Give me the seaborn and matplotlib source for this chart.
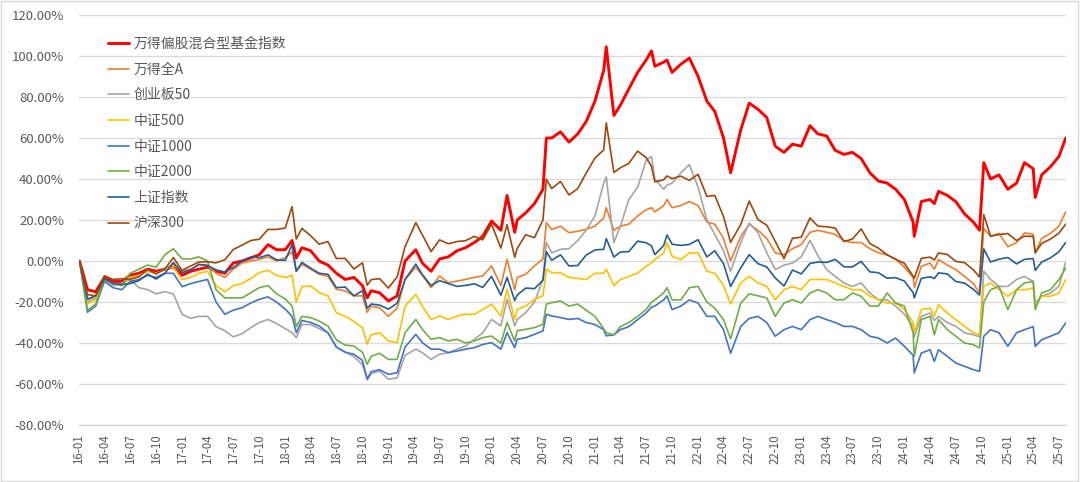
import numpy as np
import pandas as pd
import matplotlib
matplotlib.use("Agg")
import matplotlib.pyplot as plt
from matplotlib.ticker import FuncFormatter
from matplotlib.patches import Rectangle
import seaborn as sns

# ---------------- data (cumulative return, %) ----------------
dates = [
    "2016-01-04", "2016-02-01", "2016-03-01", "2016-04-01", "2016-05-01", "2016-06-01", "2016-07-01", "2016-08-01", "2016-09-01", "2016-10-01",
    "2016-11-01", "2016-12-01", "2017-01-01", "2017-02-01", "2017-03-01", "2017-04-01", "2017-05-01", "2017-06-01", "2017-07-01", "2017-08-01",
    "2017-09-01", "2017-10-01", "2017-11-01", "2017-12-01", "2018-01-01", "2018-01-25", "2018-02-09", "2018-03-01", "2018-04-01", "2018-05-01",
    "2018-06-01", "2018-07-01", "2018-08-01", "2018-09-01", "2018-10-01", "2018-10-18", "2018-11-01", "2018-12-01", "2019-01-01", "2019-02-01",
    "2019-03-01", "2019-04-08", "2019-05-01", "2019-06-01", "2019-07-01", "2019-08-01", "2019-09-01", "2019-10-01", "2019-11-01", "2019-12-01",
    "2020-01-01", "2020-02-03", "2020-02-25", "2020-03-23", "2020-04-01", "2020-05-01", "2020-06-01", "2020-07-01", "2020-07-13", "2020-08-01",
    "2020-09-01", "2020-10-01", "2020-11-01", "2020-12-01", "2021-01-01", "2021-02-01", "2021-02-10", "2021-03-09", "2021-04-01", "2021-05-01",
    "2021-06-01", "2021-07-01", "2021-07-20", "2021-08-01", "2021-09-01", "2021-09-13", "2021-10-01", "2021-11-01", "2021-12-01", "2022-01-01",
    "2022-02-01", "2022-03-01", "2022-04-01", "2022-04-26", "2022-06-01", "2022-07-01", "2022-08-01", "2022-09-01", "2022-10-01", "2022-11-01",
    "2022-12-01", "2023-01-01", "2023-02-01", "2023-03-01", "2023-04-01", "2023-05-01", "2023-06-01", "2023-07-01", "2023-08-01", "2023-09-01",
    "2023-10-01", "2023-11-01", "2023-12-01", "2024-01-01", "2024-02-01", "2024-02-05", "2024-03-01", "2024-04-01", "2024-04-16", "2024-05-01",
    "2024-06-01", "2024-07-01", "2024-08-01", "2024-09-01", "2024-09-23", "2024-10-08", "2024-11-01", "2024-12-01", "2025-01-01", "2025-02-01",
    "2025-03-01", "2025-04-01", "2025-04-08", "2025-05-01", "2025-06-01", "2025-07-01", "2025-07-25",
]

fund_index = [
    0, -14, -15, -8, -10, -10, -7, -6, -4, -5,
    -4, -3, -7, -5, -4, -3, -5, -6, -1, 0,
    1.5, 3, 8, 5.5, 5.5, 10, 1.5, 6.5, 5, 0,
    -2, -6, -9, -8, -12, -18, -14.5, -15.5, -19.5, -17,
    0, 5.5, -1, -5, 1, 2, 5, 6.5, 9, 12,
    19.5, 15, 32, 14, 20, 23.5, 28, 35, 60, 60,
    63, 58, 62, 68, 78, 93, 104.5, 71, 76, 84,
    92, 98, 102.5, 95, 97, 98, 92, 96, 99, 90,
    78, 73, 60, 43, 64, 77, 74, 70, 56, 53,
    57, 56, 66, 62, 61, 54, 52, 53, 50, 43,
    39, 38, 35, 30, 19, 12, 29, 30, 28, 34,
    32, 29, 23, 19, 15, 48, 40, 42, 35, 38,
    48, 45, 31, 42, 46, 51, 60,
]

wind_all_a = [
    0, -19, -17, -9, -11, -11, -8, -7, -5, -6,
    -4, -1.5, -5, -4, -2, -2, -6, -8, -4, -1,
    0, 0.8, 2, 0, 1.6, 4.5, -5, -1.6, -4, -6.5,
    -7.5, -13.8, -14.6, -17, -17, -25, -22, -22.8, -27, -23,
    -9, -3, -7, -13, -7.3, -10.6, -9.8, -9, -8, -7.3,
    -2.4, -12, 0.8, -14, -8, -6.5, -2.4, 1, 18.7, 15.4,
    17, 13.8, 14.5, 15.5, 17, 21, 26, 15, 17, 18,
    22, 25, 26, 24, 27, 30, 26, 27, 29, 27,
    19, 18, 11, 0, 12, 18, 15, 11, 4, 3,
    6, 8, 14, 15, 14, 13, 10, 9, 9, 6,
    4, 3, 1, -3, -8, -13, -2.6, -1, -4, 0.7,
    -2, -4.2, -7.5, -11, -15.6, 16, 12, 13.5, 7, 9,
    13.7, 13, 4, 11, 13.5, 17, 24,
]

chinext50 = [
    0, -20, -18, -9, -12, -11, -9, -13, -14, -16,
    -15, -16, -26, -28, -27, -27, -32, -34, -37, -35.5,
    -32.5, -30, -28.5, -30.5, -33, -35, -37.4, -31, -31, -33,
    -35, -42, -44.4, -46.7, -50.5, -58, -55, -53.7, -57.7, -57,
    -46, -43, -44.7, -48, -45.5, -44.7, -43, -41.5, -38.2, -35,
    -28.5, -31.7, -18.7, -31.7, -28.5, -25.2, -20, -9, 9, 4,
    5.7, 6, 10, 15, 22, 38, 41, 9, 17, 30,
    36, 49, 51, 40, 35, 37, 38, 43, 47, 36,
    20, 13, 5, -5, 9, 18.5, 13.7, 4, -4.2, -2,
    -1, 2, 10, 2.6, -4.2, -7.5, -10.7, -12.4, -10.7, -15.6,
    -18.9, -18.9, -22, -26, -32, -37, -27, -25.4, -29, -27,
    -30, -31.9, -35, -36, -37, -5, -9, -12.4, -12.4, -9,
    -7.5, -10, -20.5, -17.2, -15.6, -12.4, -0.5,
]

csi500 = [
    0, -21, -19, -9, -11, -12, -8, -7, -5, -6,
    -4, -3, -9, -8, -6, -5, -12, -15, -12, -11,
    -8.5, -5.7, -4.5, -7, -8, -7, -20, -12.5, -12.2, -15.4,
    -17, -25.2, -27, -29.5, -32.5, -40.5, -36, -35, -39, -39.8,
    -22, -16.3, -22, -28.5, -26.8, -28.5, -26.8, -26, -26, -23.6,
    -21.1, -26.8, -13.8, -28.5, -23.6, -22, -18.7, -17, -4, -5.7,
    -5.7, -8, -8.5, -9, -6, -6, -4, -12, -9, -7.5,
    -5.9, -2.6, -1, 0.7, 3.9, 9, 2.3, 0.7, 3.9, 4,
    -5, -6, -12, -21, -10.7, -7.5, -10.7, -12.4, -18.9, -14,
    -12.4, -14, -9, -9, -9, -10.7, -12.4, -14, -14, -17.2,
    -18.9, -20.5, -20.5, -23.7, -30, -35, -23.7, -23, -27, -21.3,
    -25.4, -28.6, -31.9, -35, -36, -12.4, -10.7, -14, -17.2, -14,
    -14, -13.2, -22, -17.2, -17.2, -15.6, -9,
]

csi1000 = [
    0, -25, -22, -10, -13, -14, -10, -9, -7, -8,
    -6, -6, -12.5, -11, -10, -9, -20, -26, -24, -22.8,
    -20.5, -18.7, -17.5, -20, -23.5, -27, -35, -29, -30, -31.7,
    -35, -42, -44.5, -45.5, -48.5, -57.5, -54, -53, -55.3, -54.5,
    -42, -35.8, -39.8, -43, -43, -44.7, -43.9, -43, -42.3, -40.7,
    -39.8, -43, -35, -42.3, -38.2, -37.4, -35.8, -34.1, -26, -26.8,
    -27.6, -28.5, -28, -30, -31, -33.5, -36.5, -36, -33.5, -32,
    -28.6, -25.4, -22.5, -22, -19, -17, -23.7, -22, -19, -20.5,
    -27, -27, -33.5, -45, -31.9, -28, -27, -30, -36.7, -33.5,
    -31.9, -33.5, -28.6, -27, -28.6, -30, -31.9, -31.9, -33.5, -36.7,
    -37.6, -40, -37.6, -41.6, -46, -54.6, -44.9, -43.3, -49, -43.3,
    -46.5, -49.8, -51.4, -53, -53.8, -36.7, -33.5, -35, -41.6, -35,
    -33.5, -32, -41.6, -38.4, -36.7, -35, -30.2,
]

csi2000 = [
    0, -24, -21, -9, -11, -12, -6, -4, -2, -3,
    3, 6, 1, 1, 2, 0, -14, -18, -18, -18,
    -15.5, -13, -12, -16, -18.5, -22, -32, -27, -27.6, -29.3,
    -31.7, -38.5, -41, -41.5, -44.5, -50.4, -46.5, -45, -48, -48,
    -35, -28.5, -33.3, -38.2, -37.4, -39, -38.2, -40, -39, -37.4,
    -36.6, -40, -30, -39, -34, -33.3, -32.5, -30.9, -21, -20.3,
    -19.5, -22, -21, -24, -27, -33, -35, -36, -32, -30,
    -27, -23.7, -20, -19, -15.6, -13, -19, -19, -13, -12.4,
    -20, -23, -28.6, -38, -20.5, -16, -17, -18, -27, -20.5,
    -18.9, -20.5, -15.6, -14, -15.6, -18.9, -18.9, -15.6, -17.2, -22,
    -22, -15.6, -20.5, -22, -35, -46.5, -28.6, -27, -36, -28.6,
    -33.5, -36.7, -40, -40.8, -42.4, -20, -14, -12.4, -23.7, -14,
    -10.7, -10, -23.7, -15.6, -14, -9, -3.4,
]

sse_composite = [
    0, -18.5, -17, -8.7, -10.9, -11.5, -11, -9.6, -6.4, -8.8,
    -6, -0.7, -5.8, -4.2, -1.6, -2.2, -4.3, -5.4, -3.2, 0,
    2, 1.6, 3, 0.6, 0.3, 8, -5, -0.7, -3.5, -6,
    -6.5, -13, -12.7, -17, -14.5, -23, -21, -21.5, -23.5, -20.6,
    -9, -1.5, -6.6, -12, -9.6, -11, -12.4, -11.9, -11.1, -12.9,
    -7.5, -16.7, -8, -19.3, -16.6, -13.2, -13.5, -9.4, 4.5, 0.4,
    3, -2.4, -2.2, 2.9, 5.4, 5.7, 10.9, 1.9, 4.4, 4.6,
    9.7, 8.9, 7.4, 3.1, 7.5, 12.7, 8.2, 7.6, 8.1, 10.4,
    2, 5, -1.3, -12.4, -3.3, 3.1, -1.3, -2.9, -8.3, -12.2,
    -4.4, -6.3, -1.2, -0.5, -0.7, 0.8, -2.8, -2.9, -0.2, -5.3,
    -5.7, -8.4, -8.1, -9.8, -15.4, -18, -8.5, -7.7, -8.5, -5.8,
    -6.3, -10, -10.8, -13.8, -16.6, 5.9, -0.5, 0.9, 1.7, -1.4,
    0.8, 1.2, -4.6, -0.5, 1.5, 4.5, 9,
]

csi300 = [
    0, -16.4, -17, -7.2, -9, -8.7, -9, -7.7, -4.1, -6.3,
    -3.9, 1.7, -4.6, -2.4, -0.5, -0.4, -0.9, 0.6, 5.6, 7.7,
    10, 10.6, 15.4, 15.4, 16.1, 26.5, 10.7, 15.9, 12.3, 8.2,
    9.5, 1.2, 1.3, -3.9, -0.9, -11.8, -9.1, -8.6, -13.2, -7.7,
    7, 18.7, 12.8, 4.6, 10.3, 8.4, 9.5, 9.9, 12, 10.3,
    18, 6.3, 17.7, 1.8, 6.2, 12.8, 11.4, 20, 39.9, 35.3,
    38.8, 32.2, 35.3, 42.9, 50.2, 54.2, 67.4, 43.2, 45.5, 47.6,
    53.6, 50.5, 46.2, 38.6, 39.6, 41.5, 40.2, 41.4, 39.3, 42.3,
    31.5, 32, 21.7, 9.1, 17.9, 29.2, 20.2, 17.5, 9.6, 1.1,
    11.1, 11.6, 21, 17, 16.7, 16.1, 9.5, 10.7, 15.6, 8.5,
    6.3, 3, 0.8, -1.1, -7.4, -8.4, 1.3, 1.9, 0.5, 3.9,
    3.2, -0.2, -0.8, -4.3, -7.8, 22.6, 12.1, 12.9, 13.4, 10,
    12.1, 12, 4, 8.6, 10.7, 13.6, 18,
]

series_names = ["万得偏股混合型基金指数", "万得全A", "创业板50", "中证500",
                "中证1000", "中证2000", "上证指数", "沪深300"]
series_values = [fund_index, wind_all_a, chinext50, csi500,
                 csi1000, csi2000, sse_composite, csi300]

# ---------------- style ----------------
colors = ["#FF0000", "#ED7D31", "#A5A5A5", "#FFC000",
          "#4472C4", "#70AD47", "#255E91", "#9E480E"]
widths = [2.1, 1.2, 1.2, 1.2, 1.2, 1.2, 1.2, 1.2]

sns.set_theme(style="white")
plt.rcParams["font.family"] = ["Noto Sans CJK SC", "DejaVu Sans"]
plt.rcParams["axes.unicode_minus"] = False

W, H = 1080, 482
fig = plt.figure(figsize=(W / 100, H / 100), dpi=100)
left, right, top, bottom = 78.7, 1066, 15, 425
ax = fig.add_axes([left / W, 1 - bottom / H, (right - left) / W, (bottom - top) / H])

x = pd.to_datetime(dates)
for name, vals, c, lw in zip(series_names, series_values, colors, widths):
    sns.lineplot(x=x, y=vals, color=c, linewidth=lw, label=name, ax=ax)

ax.set_ylim(-80, 120)
ax.set_yticks(np.arange(-80, 121, 20))
ax.yaxis.set_major_formatter(FuncFormatter(lambda v, p: f"{v:.2f}%"))

ax.set_xlim(pd.Timestamp("2016-01-01"), pd.Timestamp("2025-07-26"))
tick_dates = pd.date_range("2016-01-01", "2025-07-01", freq="3MS")
tick_labels = [d.strftime("%y-%m") for d in tick_dates]
ax.set_xticks(tick_dates)
ax.set_xticklabels(tick_labels, rotation=90)

ax.set_xlabel("")
ax.set_ylabel("")
ax.grid(False)
ax.yaxis.grid(True, color="#D9D9D9", linewidth=0.9)
ax.set_axisbelow(True)
for s in ["top", "right", "left"]:
    ax.spines[s].set_visible(False)
ax.spines["bottom"].set_color("#D0D0D0")
ax.spines["bottom"].set_linewidth(0.9)

ax.tick_params(axis="y", length=0, pad=10.5, labelsize=9.5, labelcolor="#595959")
ax.tick_params(axis="x", direction="out", length=4, width=0.8, color="#BFBFBF",
               pad=3, labelsize=8.3, labelcolor="#595959")

leg = ax.legend(loc="upper left", bbox_to_anchor=(108 / W, 1 - 37 / H),
                bbox_transform=fig.transFigure, frameon=False, fontsize=10,
                handlelength=1.5, handletextpad=0.35, labelspacing=0.84,
                borderpad=0, borderaxespad=0)
for t in leg.get_texts():
    t.set_color("#595959")

fig.patches.append(Rectangle((0.0008, 0.003), 0.997, 0.995, transform=fig.transFigure,
                             fill=False, edgecolor="#D9D9D9", linewidth=1.0))

fig.savefig("out.png", dpi=100)
